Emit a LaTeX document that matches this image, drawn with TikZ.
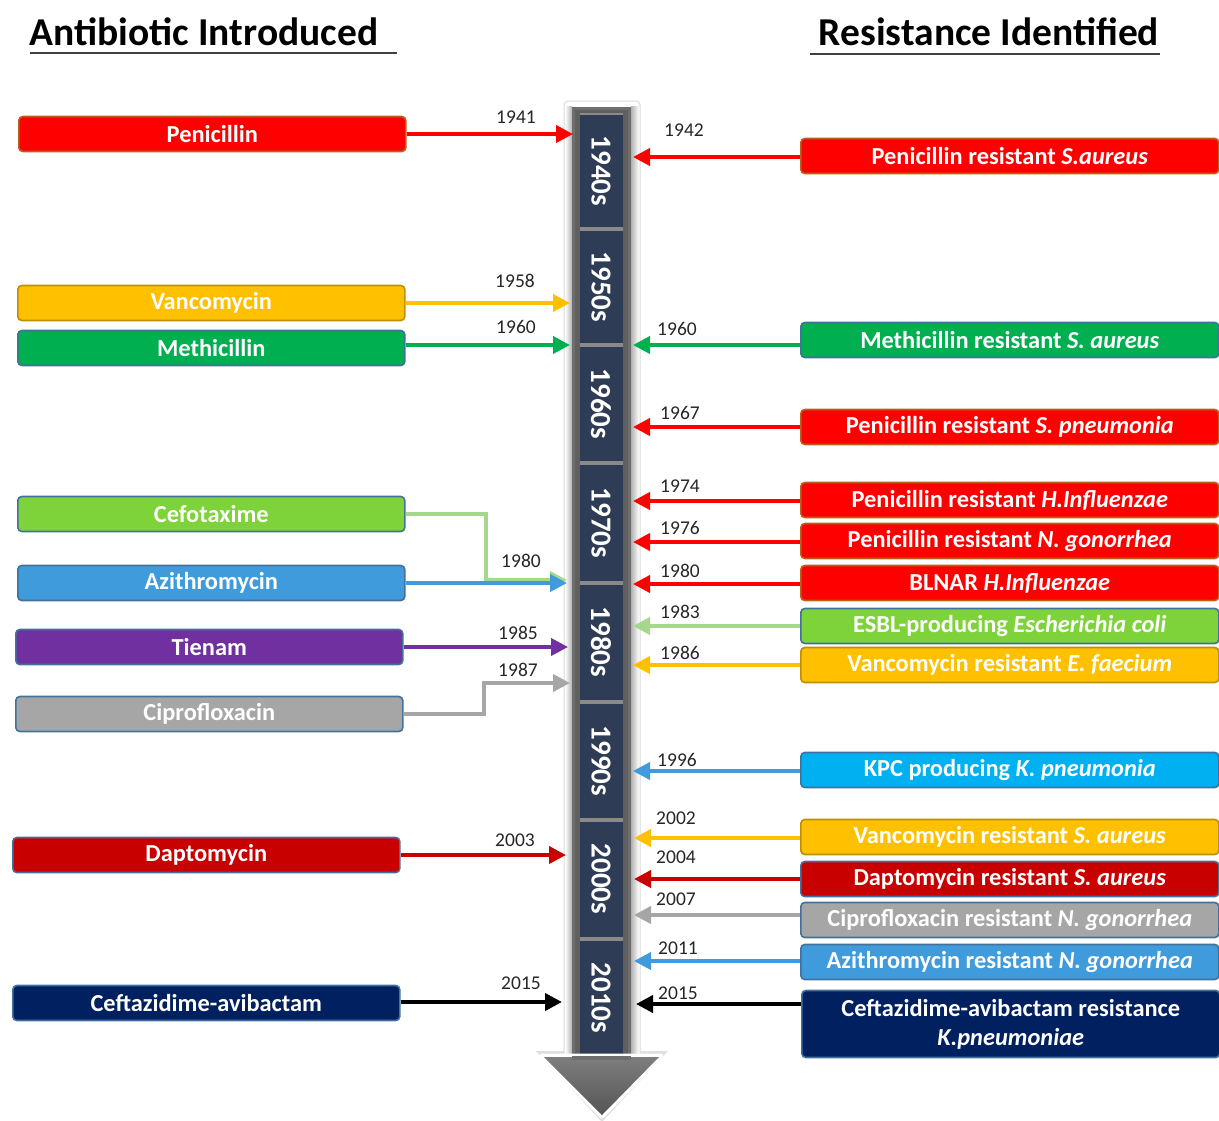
\documentclass[tikz,border=0pt]{standalone}
\usepackage{fontspec}
\setmainfont{Carlito}
\usetikzlibrary{arrows.meta}
\definecolor{cRed}{HTML}{FF0000}
\definecolor{cOrange}{HTML}{FFC000}
\definecolor{cGreen}{HTML}{00B050}
\definecolor{cLGreen}{HTML}{7ED33B}
\definecolor{cLGreenLine}{HTML}{A5D78C}
\definecolor{cBlue}{HTML}{3F9BDB}
\definecolor{cCyan}{HTML}{00B0F0}
\definecolor{cPurple}{HTML}{7030A0}
\definecolor{cGrey}{HTML}{A6A6A6}
\definecolor{cDRed}{HTML}{C80000}
\definecolor{cNavy}{HTML}{002060}
\definecolor{bBrown}{HTML}{B8621C}
\definecolor{bGold}{HTML}{BF8F00}
\definecolor{bBlue}{HTML}{41719C}
\definecolor{segNavy}{HTML}{2E3D55}
\definecolor{barGrey}{HTML}{6E6E6E}
\definecolor{triTop}{HTML}{7E7E7E}
\definecolor{triBot}{HTML}{555555}
\definecolor{sepGrey}{HTML}{8A8A8A}
\begin{document}
\begin{tikzpicture}[x=1pt,y=-1pt,
  box/.style={rounded corners=4pt, line width=1.6pt, minimum height=35pt, inner sep=0pt,
    text=white, font=\fontsize{24.4}{29}\selectfont\bfseries, anchor=west, align=center},
  lbox/.style={box, minimum width=387pt},
  rbox/.style={box, minimum width=418pt},
  arr/.style={line width=3.9pt, -{Triangle[length=17pt,width=17pt]}},
  elbowline/.style={line width=3.9pt, line join=miter, -{Triangle[length=17pt,width=17pt]}},
  yr/.style={font=\fontsize{19.5}{21}\selectfont, text=black!85},
  seg/.style={rotate=-90, text=white, font=\fontsize{29}{31}\selectfont\bfseries},
  hdr/.style={font=\fontsize{39.5}{43}\selectfont\bfseries, text=black},
  segbox/.style={fill=segNavy}]
\useasboundingbox (0,0) rectangle (1219,1120);
\clip (0,0) rectangle (1219,1120);

% headers
\node[hdr] (h1) at (204,32) {Antibiotic Introduced};
\node[hdr] (h2) at (989,32) {Resistance Identified};
\draw[line width=2pt, black!75] (30,53) -- (397,53);
\draw[line width=2pt, black!75] (810,54) -- (1160,54);

% timeline frame
\fill[gray!25] (536,1051) -- (668,1051) -- (602,1122) -- cycle;
\fill[white, draw=gray!30, line width=1pt, rounded corners=4pt] (564,101) rectangle (640,1060);
\shade[left color=white, right color=gray!60] (565,106) rectangle (572,1057);
\shade[left color=gray!60, right color=white] (631,106) rectangle (639,1057);
\fill[barGrey] (572,107) rectangle (631,1058);
\fill[gray!75!black] (575,110) rectangle (628,1058);
\fill[sepGrey] (580,113) rectangle (623,1057);
% segments
\fill[segbox] (580,115) rectangle (623,227);
\fill[segbox] (580,231) rectangle (623,343);
\fill[segbox] (580,347) rectangle (623,461);
\fill[segbox] (580,465) rectangle (623,581);
\fill[segbox] (580,585) rectangle (623,700);
\fill[segbox] (580,704) rectangle (623,818);
\fill[segbox] (580,822) rectangle (623,937);
\fill[segbox] (580,941) rectangle (623,1056);
% arrow head of timeline
\draw[white, line width=5pt, line join=round] (542,1056) -- (661,1056) -- (602,1116) -- cycle;
\shade[top color=triTop, bottom color=triBot] (544,1057) -- (659,1057) -- (602,1115) -- cycle;
\fill[barGrey] (572,1056) rectangle (631,1060);

\node[seg] (s40) at (601,171) {1940s};
\node[seg] (s50) at (601,287) {1950s};
\node[seg] (s60) at (601,404) {1960s};
\node[seg] (s70) at (601,523) {1970s};
\node[seg] (s80) at (601,642) {1980s};
\node[seg] (s90) at (601,761) {1990s};
\node[seg] (s00) at (601,879) {2000s};
\node[seg] (s10) at (601,998) {2010s};

% left boxes
\node[lbox, fill=cRed, draw=bBrown] (pen) at (18,134) {Penicillin};
\node[lbox, fill=cOrange, draw=bGold] (van) at (17,303) {Vancomycin};
\node[lbox, fill=cGreen, draw=bBlue] (met) at (17,348) {Methicillin};
\node[lbox, fill=cLGreen, draw=bBlue] (cef) at (17,514) {Cefotaxime};
\node[lbox, fill=cBlue, draw=bBlue] (azi) at (17,583) {Azithromycin};
\node[lbox, fill=cPurple, draw=bBlue] (tie) at (15,647) {Tienam};
\node[lbox, fill=cGrey, draw=bBlue] (cip) at (15,714) {Ciprofloxacin};
\node[lbox, fill=cDRed, draw=bBlue] (dap) at (12,855) {Daptomycin};
\node[lbox, fill=cNavy, draw=bBlue] (cav) at (12,1003) {Ceftazidime-avibactam};

% right boxes
\node[rbox, fill=cRed, draw=bBrown] (r42) at (800,156) {Penicillin resistant \textit{S.aureus}};
\node[rbox, fill=cGreen, draw=bBlue] (r60) at (800,340) {Methicillin resistant \textit{S. aureus}};
\node[rbox, fill=cRed, draw=bBrown] (r67) at (800,427) {Penicillin resistant \textit{S. pneumonia}};
\node[rbox, fill=cRed, draw=bBrown] (r74) at (800,500) {Penicillin resistant \textit{H.Influenzae}};
\node[rbox, fill=cRed, draw=bBrown] (r76) at (800,541) {Penicillin resistant \textit{N. gonorrhea}};
\node[rbox, fill=cRed, draw=bBrown] (r80) at (800,583) {BLNAR \textit{H.Influenzae}};
\node[rbox, fill=cLGreen, draw=bBlue] (r83) at (800,626) {ESBL-producing \textit{Escherichia coli}};
\node[rbox, fill=cOrange, draw=bGold] (r86) at (800,665) {Vancomycin resistant \textit{E. faecium}};
\node[rbox, fill=cCyan, draw=bBlue] (r96) at (800,770) {KPC producing \textit{K. pneumonia}};
\node[rbox, fill=cOrange, draw=bGold] (r02) at (800,837) {Vancomycin resistant \textit{S. aureus}};
\node[rbox, fill=cDRed, draw=bBlue] (r04) at (800,879) {Daptomycin resistant \textit{S. aureus}};
\node[rbox, fill=cGrey, draw=bBlue] (r07) at (800,920) {Ciprofloxacin resistant \textit{N. gonorrhea}};
\node[rbox, fill=cBlue, draw=bBlue] (r11) at (800,962) {Azithromycin resistant \textit{N. gonorrhea}};
\node[rbox, fill=cNavy, draw=bBlue, minimum height=67pt] (r15) at (801,1024) {Ceftazidime-avibactam resistance\\\textit{K.pneumoniae}};

% tip coordinates (left side)
\coordinate (L41) at (573,134);
\coordinate (L58) at (570,303);
\coordinate (L60) at (570,345);
\coordinate (Lcef) at (567,580);
\coordinate (cefb) at (486,580);
\coordinate (L80) at (567,583);
\coordinate (L85) at (568,647);
\coordinate (cipb) at (484,683);
\coordinate (L87) at (570,683);
\coordinate (L03) at (566,855);
\coordinate (L15) at (562,1002);
% tip coordinates (right side)
\coordinate (R42) at (633,157);
\coordinate (R60) at (633,345);
\coordinate (R67) at (633,427);
\coordinate (R74) at (633,501);
\coordinate (R76) at (633,542);
\coordinate (R80) at (633,584);
\coordinate (R83) at (633,626);
\coordinate (R86) at (633,665);
\coordinate (R96) at (633,771);
\coordinate (R02) at (634,838);
\coordinate (R04) at (634,879);
\coordinate (R07) at (634,915);
\coordinate (R11) at (634,961);
\coordinate (R15) at (636,1004);

% left connectors
\draw[arr, cRed] (pen.east) -- (L41);
\draw[arr, cOrange] (van.east) -- (L58);
\draw[arr, cGreen] (met.east |- L60) -- (L60);
\draw[elbowline, cLGreenLine] (cef.east) -| (cefb) -- (Lcef);
\draw[arr, cBlue] (azi.east) -- (L80);
\draw[arr, cPurple] (tie.east) -- (L85);
\draw[elbowline, cGrey] (cip.east) -| (cipb) -- (L87);
\draw[arr, cDRed] (dap.east) -- (L03);
\draw[arr, black] (cav.east |- L15) -- (L15);

% right connectors
\draw[arr, cRed] (r42.west |- R42) -- (R42);
\draw[arr, cGreen] (r60.west |- R60) -- (R60);
\draw[arr, cRed] (r67.west |- R67) -- (R67);
\draw[arr, cRed] (r74.west |- R74) -- (R74);
\draw[arr, cRed] (r76.west |- R76) -- (R76);
\draw[arr, cRed] (r80.west |- R80) -- (R80);
\draw[arr, cLGreenLine] (r83.west |- R83) -- (R83);
\draw[arr, cOrange] (r86.west |- R86) -- (R86);
\draw[arr, cBlue] (r96.west |- R96) -- (R96);
\draw[arr, cOrange] (r02.west |- R02) -- (R02);
\draw[arr, cDRed] (r04.west |- R04) -- (R04);
\draw[arr, cGrey] (r07.west |- R07) -- (R07);
\draw[arr, cBlue] (r11.west |- R11) -- (R11);
\draw[arr, black] (r15.west |- R15) -- (R15);

% year labels left
\node[yr] (y41) at (516,117) {1941};
\node[yr] (y58) at (515,281) {1958};
\node[yr] (y60l) at (516,327) {1960};
\node[yr] (y80l) at (521,561) {1980};
\node[yr] (y85) at (518,633) {1985};
\node[yr] (y87) at (518,670) {1987};
\node[yr] (y03) at (515,840) {2003};
\node[yr] (y15l) at (521,983) {2015};
% year labels right
\node[yr] (y42) at (684,130) {1942};
\node[yr] (y60r) at (677,329) {1960};
\node[yr] (y67) at (680,413) {1967};
\node[yr] (y74) at (680,486) {1974};
\node[yr] (y76) at (680,528) {1976};
\node[yr] (y80r) at (680,571) {1980};
\node[yr] (y83) at (680,612) {1983};
\node[yr] (y86) at (680,653) {1986};
\node[yr] (y96) at (677,760) {1996};
\node[yr] (y02) at (676,818) {2002};
\node[yr] (y04) at (676,857) {2004};
\node[yr] (y07) at (676,899) {2007};
\node[yr] (y11) at (678,948) {2011};
\node[yr] (y15r) at (678,993) {2015};
\end{tikzpicture}
\end{document}
